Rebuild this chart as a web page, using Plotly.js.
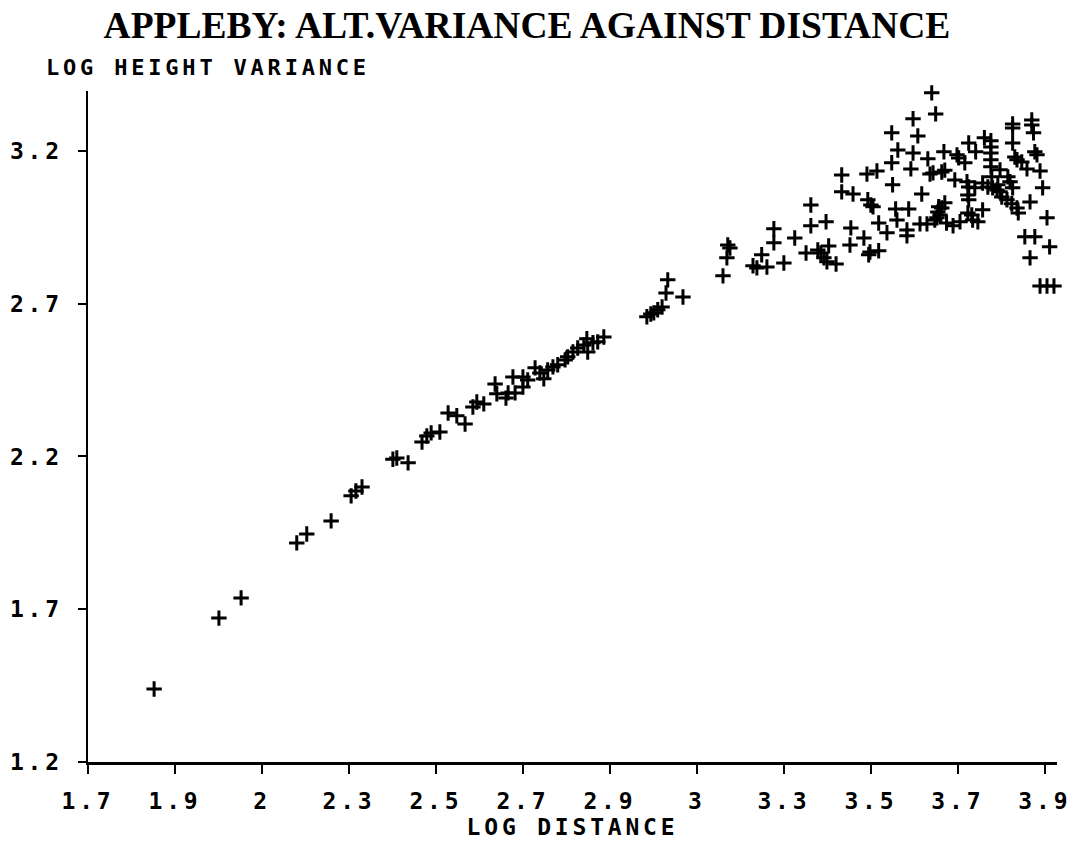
<!DOCTYPE html>
<html>
<head>
<meta charset="utf-8">
<script src="https://cdn.plot.ly/plotly-3.0.1.min.js"></script>
<style>
  html, body { margin: 0; padding: 0; background: #fff; }
  #chart { width: 1081px; height: 846px; }
  text { letter-spacing: 3.8px; }
  .gtitle { letter-spacing: 0px !important; }
</style>
</head>
<body>
<div id="chart"></div>
<script>
// Log distance (x) and log height variance (y)
const logDistance = [
  1.852, 2.001, 2.052, 2.180, 2.203, 2.259, 2.305, 2.316, 2.330, 2.401,
  2.410, 2.436, 2.468, 2.479, 2.489, 2.509, 2.528, 2.548, 2.567, 2.585,
  2.594, 2.610, 2.636, 2.640, 2.661, 2.666, 2.677, 2.682, 2.700, 2.700,
  2.711, 2.728, 2.739, 2.748, 2.757, 2.769, 2.780, 2.797, 2.803, 2.815,
  2.826, 2.840, 2.847, 2.849, 2.861, 2.872, 2.886, 2.985, 2.994, 3.001,
  3.010, 3.020, 3.029, 3.033, 3.068, 3.160, 3.169, 3.171, 3.176, 3.229,
  3.238, 3.249, 3.261, 3.277, 3.277, 3.300, 3.325, 3.351, 3.362, 3.362,
  3.378, 3.385, 3.392, 3.399, 3.403, 3.397, 3.420, 3.433, 3.433, 3.459,
  3.454, 3.452, 3.484, 3.491, 3.514, 3.493, 3.500, 3.505, 3.498, 3.495,
  3.518, 3.518, 3.537, 3.548, 3.548, 3.550, 3.557, 3.560, 3.562, 3.583,
  3.583, 3.587, 3.592, 3.597, 3.597, 3.608, 3.613, 3.617, 3.629, 3.631,
  3.636, 3.643, 3.640, 3.649, 3.647, 3.652, 3.654, 3.656, 3.659, 3.663,
  3.670, 3.663, 3.670, 3.668, 3.674, 3.689, 3.693, 3.698, 3.702, 3.705,
  3.716, 3.721, 3.725, 3.725, 3.723, 3.725, 3.723, 3.732, 3.734, 3.739,
  3.741, 3.746, 3.757, 3.757, 3.761, 3.769, 3.776, 3.776, 3.776, 3.776,
  3.776, 3.778, 3.780, 3.790, 3.792, 3.797, 3.797, 3.801, 3.813, 3.815,
  3.820, 3.824, 3.826, 3.826, 3.826, 3.826, 3.831, 3.836, 3.836, 3.839,
  3.847, 3.859, 3.854, 3.877, 3.866, 3.866, 3.870, 3.870, 3.874, 3.877,
  3.882, 3.889, 3.895, 3.905, 3.911, 3.932, 3.889, 3.905, 3.921
];
const logHeightVariance = [
  1.439, 1.671, 1.737, 1.917, 1.946, 1.989, 2.071, 2.087, 2.100, 2.191,
  2.195, 2.179, 2.247, 2.267, 2.277, 2.280, 2.342, 2.333, 2.306, 2.362,
  2.378, 2.372, 2.437, 2.405, 2.391, 2.408, 2.460, 2.408, 2.427, 2.460,
  2.450, 2.490, 2.473, 2.454, 2.483, 2.493, 2.500, 2.516, 2.526, 2.542,
  2.555, 2.565, 2.585, 2.542, 2.572, 2.575, 2.591, 2.657, 2.666, 2.670,
  2.680, 2.689, 2.735, 2.778, 2.722, 2.791, 2.850, 2.892, 2.882, 2.824,
  2.817, 2.860, 2.820, 2.899, 2.945, 2.833, 2.915, 2.866, 3.023, 2.955,
  2.876, 2.866, 2.850, 2.837, 2.889, 2.968, 2.830, 3.121, 3.066, 3.059,
  2.948, 2.892, 2.915, 3.124, 3.134, 3.040, 3.023, 3.017, 2.869, 2.860,
  2.873, 2.964, 2.932, 3.259, 3.161, 3.089, 3.010, 2.974, 3.203, 2.941,
  2.922, 3.010, 3.141, 3.305, 3.193, 3.249, 2.961, 3.059, 2.961, 3.174,
  3.124, 3.128, 3.390, 3.321, 2.974, 2.981, 3.000, 3.017, 2.990, 3.013,
  3.030, 3.131, 3.137, 3.197, 2.964, 2.955, 3.105, 3.187, 3.177, 2.968,
  3.161, 3.099, 3.082, 3.226, 3.056, 3.040, 2.997, 2.990, 2.974, 3.079,
  3.197, 2.968, 3.095, 3.007, 3.243, 3.082, 3.233, 3.213, 3.193, 3.171,
  3.148, 3.115, 3.079, 3.072, 3.089, 3.138, 3.066, 3.049, 3.040, 3.115,
  3.099, 3.027, 3.288, 3.275, 3.226, 3.079, 3.180, 3.171, 3.013, 2.997,
  3.164, 3.141, 2.919, 2.919, 2.850, 3.033, 3.301, 3.285, 3.259, 3.197,
  3.187, 3.134, 3.079, 2.981, 2.886, 2.810, 2.758, 2.758, 2.758
];
const xTickValues = [1.7, 1.9, 2.1, 2.3, 2.5, 2.7, 2.9, 3.1, 3.3, 3.5, 3.7, 3.9];
const xTickLabels = ["1.7", "1.9", "2", "2.3", "2.5", "2.7", "2.9", "3", "3.3", "3.5", "3.7", "3.9"];
const yTickValues = [1.2, 1.7, 2.2, 2.7, 3.2];
const yTickLabels = ["1.2", "1.7", "2.2", "2.7", "3.2"];

const plotterFont = { family: "DejaVu Sans Mono", size: 23, weight: "bold", color: "#000" };

const trace = {
  type: "scatter",
  mode: "markers",
  x: logDistance,
  y: logHeightVariance,
  cliponaxis: false,
  marker: { symbol: "cross-thin", size: 11, color: "#000", line: { color: "#000", width: 3 } },
  hoverinfo: "x+y"
};

const layout = {
  width: 1081,
  height: 846,
  paper_bgcolor: "#fff",
  plot_bgcolor: "#fff",
  showlegend: false,
  margin: { l: 88, r: 24, t: 91, b: 84, pad: 0 },
  title: {
    text: "APPLEBY: ALT.VARIANCE AGAINST DISTANCE",
    font: { family: "Liberation Serif", size: 37.5, weight: "bold", color: "#000" },
    x: 527 / 1081, xanchor: "center",
    y: 1 - 25 / 846, yanchor: "middle"
  },
  xaxis: {
    range: [1.7, 3.928],
    tickmode: "array",
    tickvals: xTickValues,
    ticktext: xTickLabels,
    ticks: "outside", ticklen: 9, tickwidth: 2, tickcolor: "#000",
    showline: true, linecolor: "#000", linewidth: 2.5,
    showgrid: false, zeroline: false,
    tickfont: plotterFont,
    ticklabelstandoff: 8,
    title: { text: "LOG DISTANCE", font: plotterFont, standoff: 0 }
  },
  yaxis: {
    range: [1.2, 3.396],
    tickmode: "array",
    tickvals: yTickValues,
    ticktext: yTickLabels,
    ticks: "outside", ticklen: 8, tickwidth: 2, tickcolor: "#000",
    showline: true, linecolor: "#000", linewidth: 2.5,
    showgrid: false, zeroline: false,
    tickfont: plotterFont,
    ticklabelstandoff: 10
  },
  annotations: [{
    text: "LOG HEIGHT VARIANCE",
    xref: "paper", yref: "paper",
    x: (44 - 88) / 969, xanchor: "left",
    y: (762 - 67) / 671, yanchor: "middle",
    showarrow: false,
    font: { family: "DejaVu Sans Mono", size: 22, weight: "bold", color: "#000" }
  }]
};

Plotly.newPlot("chart", [trace], layout, { displayModeBar: false, staticPlot: true });
</script>
</body>
</html>
